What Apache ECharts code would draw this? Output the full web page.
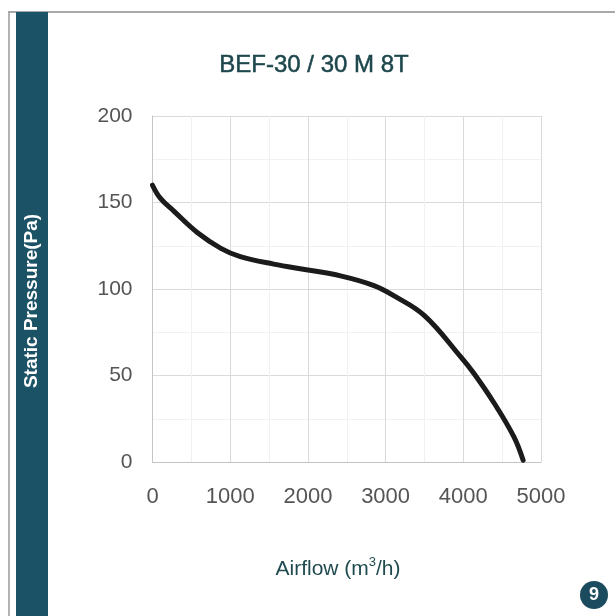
<!DOCTYPE html>
<html>
<head>
<meta charset="utf-8">
<script src="https://cdn.jsdelivr.net/npm/echarts@6/dist/echarts.min.js"></script>
<style>
html,body{margin:0;padding:0;background:#ffffff;}
#c{width:615px;height:616px;}
</style>
</head>
<body>
<div id="c"></div>
<script>
// Data
var title = 'BEF-30 / 30 M 8T';
var airflow = [0, 100, 275, 580, 880, 1130, 1560, 2000, 2420, 2850, 3110, 3500, 3970, 4140, 4400, 4650, 4770];
var pressure = [160, 152.5, 145, 132.5, 123.5, 118.7, 114.4, 111, 107.6, 102, 96, 84.6, 60.6, 51, 33.8, 14.6, 1];
var xTicks = [0, 1000, 2000, 3000, 4000, 5000];
var yTicks = [0, 50, 100, 150, 200];
var yTitle = 'Static Pressure(Pa)';
var badge = '9';

var chart = echarts.init(document.getElementById('c'), null, {renderer: 'canvas'});
var pts = airflow.map(function (x, i) { return [x, pressure[i]]; });
var font = 'Liberation Sans, Arial, sans-serif';

chart.setOption({
  backgroundColor: '#ffffff',
  animation: false,
  grid: {left: 152.5, right: 74, top: 116, bottom: 154},
  xAxis: {
    type: 'value',
    min: xTicks[0], max: xTicks[xTicks.length - 1], interval: 1000,
    axisLine: {show: true, lineStyle: {color: '#c4c4c4', width: 1}},
    axisTick: {show: false},
    axisLabel: {color: '#555555', fontSize: 22, fontFamily: font, margin: 24,
      formatter: function (v) { return String(v); }},
    splitLine: {show: true, lineStyle: {color: '#dadada', width: 1}},
    minorTick: {show: false, splitNumber: 2},
    minorSplitLine: {show: true, lineStyle: {color: '#f1f1f1', width: 1}}
  },
  yAxis: {
    type: 'value',
    min: yTicks[0], max: yTicks[yTicks.length - 1], interval: 50,
    axisLine: {show: true, lineStyle: {color: '#c4c4c4', width: 1}},
    axisTick: {show: false},
    axisLabel: {color: '#555555', fontSize: 21, fontFamily: font, margin: 20,
      formatter: function (v) { return String(v); }},
    splitLine: {show: true, lineStyle: {color: '#dadada', width: 1}},
    minorTick: {show: false, splitNumber: 2},
    minorSplitLine: {show: true, lineStyle: {color: '#f1f1f1', width: 1}}
  },
  series: [{
    type: 'line',
    data: pts,
    smooth: 0.4,
    showSymbol: false,
    lineStyle: {color: '#1b1b1b', width: 5, cap: 'round', join: 'round'}
  }],
  graphic: [
    {type: 'rect', shape: {x: 8, y: 11, width: 2, height: 605}, style: {fill: '#b3b3b3'}, silent: true},
    {type: 'rect', shape: {x: 8, y: 11, width: 607, height: 2}, style: {fill: '#a8a8a8'}, silent: true},
    {type: 'rect', shape: {x: 16, y: 12, width: 32, height: 604}, style: {fill: '#1c5266'}, silent: true},
    {type: 'text', x: 32, y: 301, rotation: Math.PI / 2,
      style: {text: yTitle, fill: '#ffffff', font: 'bold 19px ' + font, textAlign: 'center', textVerticalAlign: 'middle'}},
    {type: 'text', x: 314, y: 65,
      style: {text: title, fill: '#1d474c', font: '24px ' + font, textAlign: 'center', textVerticalAlign: 'middle',
        stroke: '#1d474c', lineWidth: 0.5}},
    {type: 'text', x: 338, y: 568,
      style: {
        text: '{a|Airflow (m}{s|3}{a|/h)}',
        textAlign: 'center', textVerticalAlign: 'middle',
        rich: {
          a: {fontSize: 21, fontFamily: font, fill: '#1f4b50', color: '#1f4b50', lineHeight: 24, verticalAlign: 'bottom'},
          s: {fontSize: 13, fontFamily: font, fill: '#1f4b50', color: '#1f4b50', lineHeight: 24, verticalAlign: 'top'}
        }
      }},
    {type: 'circle', shape: {cx: 594, cy: 595, r: 14}, style: {fill: '#1b4b5e'}, silent: true},
    {type: 'text', x: 594, y: 595,
      style: {text: badge, fill: '#ffffff', font: 'bold 18px ' + font, textAlign: 'center', textVerticalAlign: 'middle'}}
  ]
});
</script>
</body>
</html>
